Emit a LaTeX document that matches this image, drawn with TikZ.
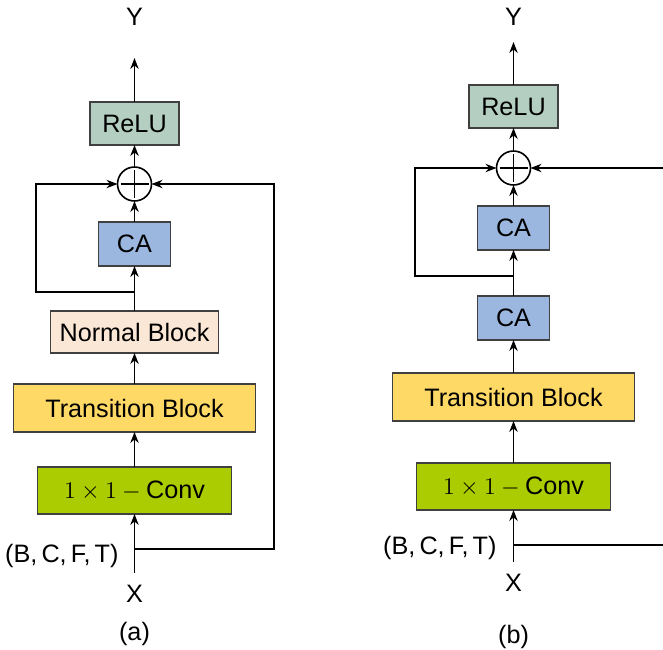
\documentclass[tikz,border=0pt]{standalone}
\usepackage{fontspec}
\setmainfont{Liberation Sans}
\usetikzlibrary{
  arrows.meta,
  positioning,
}
\definecolor{reluGreen}{RGB}{180,207,194}
\definecolor{caBlue}{RGB}{155,183,224}
\definecolor{normalPeach}{RGB}{251,231,214}
\definecolor{transYellow}{RGB}{255,217,102}
\definecolor{convGreen}{RGB}{170,204,0}
\tikzset{
  relu/.style={
    rectangle,
    minimum width=44.5pt,
    minimum height=21.5pt,
    inner sep=0pt,
    outer sep=0pt,
    text centered,
    draw=black!75,
    line width=0.8pt,
    fill=reluGreen
  },
  ca/.style={
    rectangle,
    minimum width=36pt,
    minimum height=22pt,
    inner sep=0pt,
    outer sep=0pt,
    text centered,
    draw=black!75,
    line width=0.8pt,
    fill=caBlue
  },
  normal/.style={
    rectangle,
    minimum width=84pt,
    minimum height=21pt,
    inner sep=0pt,
    outer sep=0pt,
    text centered,
    draw=black!75,
    line width=0.8pt,
    fill=normalPeach
  },
  transition/.style={
    rectangle,
    minimum width=121pt,
    minimum height=24pt,
    inner sep=0pt,
    outer sep=0pt,
    text centered,
    draw=black!75,
    line width=0.8pt,
    fill=transYellow
  },
  conv/.style={
    rectangle,
    minimum width=97pt,
    minimum height=23.5pt,
    inner sep=0pt,
    outer sep=0pt,
    text centered,
    draw=black!75,
    line width=0.8pt,
    fill=convGreen
  },
  sum/.style={
    circle,
    minimum size=17pt,
    inner sep=0pt,
    outer sep=0pt,
    draw=black,
    line width=0.8pt,
    fill=white,
    path picture={
      \draw[line width=0.8pt]
        ([yshift=7pt]path picture bounding box.center) -- ([yshift=-7pt]path picture bounding box.center)
        ([xshift=-7pt]path picture bounding box.center) -- ([xshift=7pt]path picture bounding box.center);
    }
  },
  lbl/.style={
    inner sep=0pt,
    outer sep=0pt,
  },
  arrow/.style={
    line width=0.75pt,
    -{Stealth[length=5.5pt, width=4.2pt, inset=1.8pt]},
  },
  line/.style={
    line width=0.75pt,
  },
}

\begin{document}
\begin{tikzpicture}[
    font=\fontsize{12.6}{15}\selectfont,
  ]
  \useasboundingbox (0,0) rectangle (331.5pt,-324.5pt);

  % Panel (a)
  \node (relu_a) [relu] at (67.25pt,-61.75pt) {ReLU};
  \node (sum_a) [sum, below=11pt of relu_a] {};
  \node (ca_a) [ca, below=10.5pt of sum_a] {CA};
  \node (normal_a) [normal, below=22.5pt of ca_a] {Normal Block};
  \node (trans_a) [transition, below=15.5pt of normal_a] {Transition Block};
  \node (conv_a) [conv, below=17.5pt of trans_a] {$1\times1-{}$Conv};

  \node (y_a) [lbl, above=38.5pt of relu_a] {Y};
  \node (x_a) [lbl, below=35.5pt of conv_a] {X};
  \node (cap_a) [lbl, below=10pt of x_a] {(a)};

  \coordinate (split_a) at ([yshift=-17.5pt]conv_a.south);
  \coordinate (tap_a) at ([yshift=-13pt]ca_a.south);
  \coordinate (left_a) at ([xshift=-49.25pt]sum_a.center);
  \coordinate (right_a) at ([xshift=69.75pt]sum_a.center);
  \node (shape_a) [lbl, left=8pt of split_a, yshift=-3.5pt] {(B,\,C,\,F,\,T)};

  % Panel (b)
  \node (relu_b) [relu] at (256.75pt,-53.25pt) {ReLU};
  \node (sum_b) [sum, below=11.5pt of relu_b] {};
  \node (ca1_b) [ca, below=10.5pt of sum_b] {CA};
  \node (ca2_b) [ca, below=23pt of ca1_b] {CA};
  \node (trans_b) [transition, below=16.5pt of ca2_b] {Transition Block};
  \node (conv_b) [conv, below=21pt of trans_b] {$1\times1-{}$Conv};

  \node (y_b) [lbl, above=30pt of relu_b] {Y};
  \node (x_b) [lbl, below=32pt of conv_b] {X};
  \node (cap_b) [lbl, below=17pt of x_b] {(b)};

  \coordinate (split_b) at ([yshift=-17.5pt]conv_b.south);
  \coordinate (tap_b) at ([yshift=-13pt]ca1_b.south);
  \coordinate (left_b) at ([xshift=-49.25pt]sum_b.center);
  \coordinate (edge_b) at (331.5pt,0);
  \node (shape_b) [lbl, left=8.5pt of split_b, yshift=-1.5pt] {(B,\,C,\,F,\,T)};

  % Arrows (a)
  \draw [arrow, shorten <=6pt] (x_a) -- (conv_a);
  \draw [arrow] (conv_a) -- (trans_a);
  \draw [arrow] (trans_a) -- (normal_a);
  \draw [arrow] (normal_a) -- (ca_a);
  \draw [arrow] (ca_a) -- (sum_a);
  \draw [arrow] (sum_a) -- (relu_a);
  \draw [arrow, shorten >=16.5pt] (relu_a) -- (y_a);
  \draw [arrow] (tap_a) -| (left_a) -- (sum_a);
  \draw [arrow] (split_a) -| (right_a) -- (sum_a);

  % Arrows (b)
  \draw [arrow, shorten <=6pt] (x_b) -- (conv_b);
  \draw [arrow] (conv_b) -- (trans_b);
  \draw [arrow] (trans_b) -- (ca2_b);
  \draw [arrow] (ca2_b) -- (ca1_b);
  \draw [arrow] (ca1_b) -- (sum_b);
  \draw [arrow] (sum_b) -- (relu_b);
  \draw [arrow, shorten >=8.5pt] (relu_b) -- (y_b);
  \draw [arrow] (tap_b) -| (left_b) -- (sum_b);
  \draw [line] (split_b) -- (split_b -| edge_b);
  \draw [arrow] (sum_b -| edge_b) -- (sum_b);

\end{tikzpicture}
\end{document}
